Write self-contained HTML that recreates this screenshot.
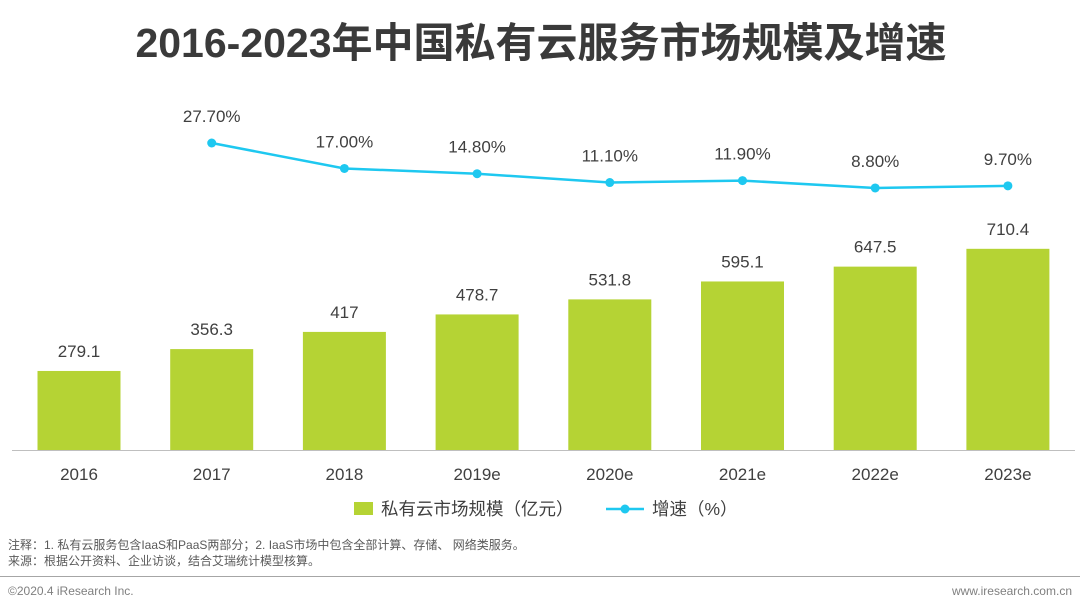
<!DOCTYPE html>
<html><head><meta charset="utf-8"><style>
body{margin:0;background:#fff;width:1080px;height:611px;overflow:hidden;font-family:"Liberation Sans","Noto Sans CJK SC",sans-serif;}
</style></head><body>
<svg id="chart" width="1080" height="611" xmlns="http://www.w3.org/2000/svg">
<text x="541" y="57" text-anchor="middle" font-size="41" font-weight="bold" fill="#3a3a3a" font-family="Liberation Sans, Noto Sans CJK SC, sans-serif">2016-2023年中国私有云服务市场规模及增速</text>
<g id="bars"></g><g id="line"></g><g id="xlabels"></g>
<line x1="12" y1="450.5" x2="1075" y2="450.5" stroke="#bfbfbf" stroke-width="1"/>
<g>
<rect x="354" y="502" width="19" height="13" fill="#b5d334"/>
<text x="381" y="515" font-size="17.5" fill="#404040" font-family="Liberation Sans, Noto Sans CJK SC, sans-serif">私有云市场规模（亿元）</text>
<line x1="606" y1="509" x2="644" y2="509" stroke="#1ec8f0" stroke-width="2.5"/>
<circle cx="625" cy="509" r="4.5" fill="#1ec8f0"/>
<text x="652" y="515" font-size="17.5" fill="#404040" font-family="Liberation Sans, Noto Sans CJK SC, sans-serif">增速（%）</text>
</g>
<text x="8" y="549" font-size="12" fill="#595959" font-family="Liberation Sans, Noto Sans CJK SC, sans-serif">注释：1. 私有云服务包含IaaS和PaaS两部分；2. IaaS市场中包含全部计算、存储、 网络类服务。</text>
<text x="8" y="565" font-size="12" fill="#595959" font-family="Liberation Sans, Noto Sans CJK SC, sans-serif">来源：根据公开资料、企业访谈，结合艾瑞统计模型核算。</text>
<line x1="0" y1="576.5" x2="1080" y2="576.5" stroke="#a6a6a6" stroke-width="1"/>
<text x="8" y="595" font-size="12" fill="#7f7f7f">©2020.4 iResearch Inc.</text>
<text x="1072" y="595" text-anchor="end" font-size="12" fill="#7f7f7f">www.iresearch.com.cn</text>
</svg>
<script>
const categories=["2016","2017","2018","2019e","2020e","2021e","2022e","2023e"];
const marketSize=[279.1,356.3,417,478.7,531.8,595.1,647.5,710.4];
const growthRate=[null,27.7,17.0,14.8,11.1,11.9,8.8,9.7];
const growthLabels=["","27.70%","17.00%","14.80%","11.10%","11.90%","8.80%","9.70%"];
const NS="http://www.w3.org/2000/svg";
const xC=i=>79+i*132.7;
const yBar=v=>450-v*0.2832;
const yLine=v=>143+(27.7-v)*2.38;
const bars=document.getElementById('bars'),line=document.getElementById('line'),xl=document.getElementById('xlabels');
function mk(t,a,p){const e=document.createElementNS(NS,t);for(const k in a)e.setAttribute(k,a[k]);p.appendChild(e);return e;}
categories.forEach((c,i)=>{
 const r=mk('rect',{x:xC(i)-41.5,y:yBar(marketSize[i]),width:83,height:450-yBar(marketSize[i]),fill:'#b5d334'},bars);
 
 
 const t=mk('text',{x:xC(i),y:yBar(marketSize[i])-14,'text-anchor':'middle','font-size':17,fill:'#404040'},bars);
 t.textContent=String(marketSize[i]);
 
 
 const x=mk('text',{x:xC(i),y:480,'text-anchor':'middle','font-size':17,fill:'#404040'},xl);
 x.textContent=c;
 
 
});
let pts=[];
growthRate.forEach((v,i)=>{if(v!==null)pts.push([xC(i),yLine(v),i]);});
const pl=mk('polyline',{points:pts.map(p=>p[0]+','+p[1]).join(' '),fill:'none',stroke:'#1ec8f0','stroke-width':2.5},line);


pts.forEach(p=>{
 const c=mk('circle',{cx:p[0],cy:p[1],r:4.5,fill:'#1ec8f0'},line);
 
 
 const t=mk('text',{x:p[0],y:p[1]-21,'text-anchor':'middle','font-size':17,fill:'#404040'},line);
 t.textContent=growthLabels[p[2]];
 
 
});
</script>
</body></html>
